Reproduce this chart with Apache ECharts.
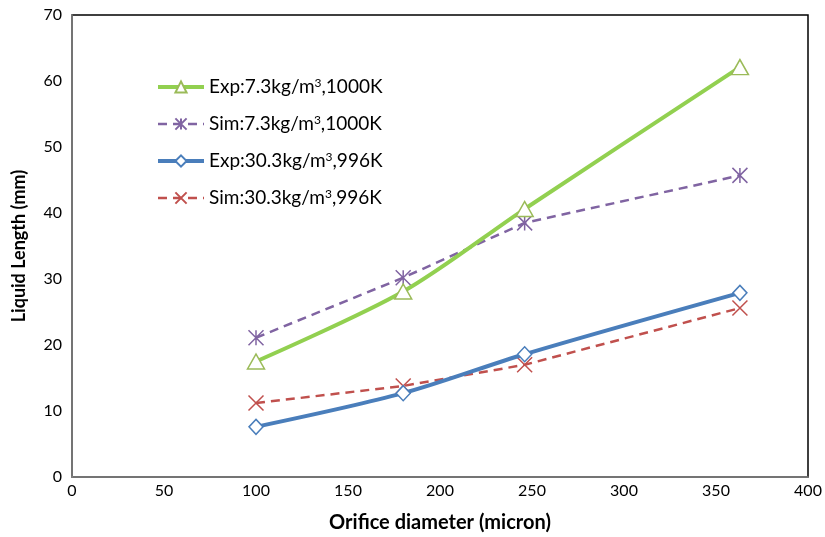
<!DOCTYPE html>
<html>
<head>
<meta charset="utf-8">
<script src="https://cdn.jsdelivr.net/npm/echarts@6/dist/echarts.min.js"></script>
<style>
  html, body { margin: 0; padding: 0; background: #fff; }
  #chart { width: 825px; height: 537px; }
</style>
</head>
<body>
<div id="chart"></div>
<script>
// orifice diameters (micron)
const diameters = [100, 180, 246, 363];

const expLow = [17.5, 28.1, 40.6, 62.1];   // Exp 7.3 kg/m3, 1000K
const simLow = [21.1, 30.2, 38.5, 45.7];   // Sim 7.3 kg/m3, 1000K
const expHigh = [7.6, 12.7, 18.6, 27.9];   // Exp 30.3 kg/m3, 996K
const simHigh = [11.2, 13.8, 17.0, 25.6];  // Sim 30.3 kg/m3, 996K

const seriesNames = [
    'Exp:7.3kg/m3,1000K',
    'Sim:7.3kg/m3,1000K',
    'Exp:30.3kg/m3,996K',
    'Sim:30.3kg/m3,996K'
];

function pairs(ys) {
    return diameters.map((x, i) => [x, ys[i]]);
}

let myChart = echarts.init(document.getElementById('chart'));
let option;

const fontFamily = 'Lato, "Open Sans", sans-serif';

option = {
    animation: false,
    grid: {
        left: 72,
        right: 17,
        top: 15,
        bottom: 60,
        outerBoundsMode: 'none',
        show: true,
        borderColor: '#000',
        borderWidth: 1.5
    },
    legend: {
        orient: 'vertical',
        left: 151,
        top: 72,
        itemWidth: 46,
        itemHeight: 14,
        itemGap: 17.5,
        textStyle: {
            fontFamily: fontFamily,
            fontSize: 19,
            color: '#000',
            rich: {
                a: { fontFamily: fontFamily, fontSize: 19, lineHeight: 20, color: '#000' },
                s: { fontFamily: fontFamily, fontSize: 12, lineHeight: 12, verticalAlign: 'top', color: '#000' }
            }
        },
        // write the "3" of m3 as a superscript
        formatter: function (name) {
            const parts = name.split('m3');
            return '{a|' + parts[0] + 'm}{s|3}{a|' + parts[1] + '}';
        },
        data: [
            { name: seriesNames[0], lineStyle: { width: 4 } },
            { name: seriesNames[1], lineStyle: { width: 2.5 } },
            { name: seriesNames[2], lineStyle: { width: 4 } },
            { name: seriesNames[3], lineStyle: { width: 2.5 } }
        ]
    },
    xAxis: {
        type: 'value',
        min: 0,
        max: 400,
        interval: 50,
        name: 'Orifice diameter (micron)',
        nameLocation: 'middle',
        nameGap: 36,
        nameTextStyle: {
            fontFamily: fontFamily,
            fontSize: 20,
            fontWeight: 'bold',
            color: '#000'
        },
        axisLine: { lineStyle: { color: '#868686', width: 1.5 } },
        axisTick: { show: false },
        splitLine: { show: false },
        axisLabel: {
            fontFamily: fontFamily,
            fontSize: 16,
            color: '#000',
            margin: 6
        }
    },
    yAxis: {
        type: 'value',
        min: 0,
        max: 70,
        interval: 10,
        name: 'Liquid Length (mm)',
        nameLocation: 'middle',
        nameGap: 44,
        nameTextStyle: {
            fontFamily: fontFamily,
            fontSize: 18,
            fontWeight: 'bold',
            color: '#000'
        },
        axisLine: { show: true, lineStyle: { color: '#868686', width: 1.5 } },
        axisTick: { show: false },
        splitLine: { show: false },
        axisLabel: {
            fontFamily: fontFamily,
            fontSize: 16,
            color: '#000',
            margin: 10
        }
    },
    series: [
        {
            name: seriesNames[0],
            type: 'line',
            data: pairs(expLow),
            smooth: 0.3,
            symbol: 'path://M5,0L10,9L0,9Z',
            symbolSize: [17, 15],
            lineStyle: { color: '#92D050', width: 4 },
            itemStyle: { color: '#fff', borderColor: '#9BBB59', borderWidth: 1.5 },
            z: 4
        },
        {
            name: seriesNames[1],
            type: 'line',
            data: pairs(simLow),
            symbol: 'path://M0,0L10,10M10,0L0,10M5,0L5,10',
            symbolSize: 15,
            lineStyle: { color: '#8064A2', width: 2.5, type: [9, 6] },
            itemStyle: { color: 'none', borderColor: '#8064A2', borderWidth: 1.5 },
            z: 3
        },
        {
            name: seriesNames[2],
            type: 'line',
            data: pairs(expHigh),
            smooth: 0.3,
            symbol: 'diamond',
            symbolSize: [14, 15],
            lineStyle: { color: '#4A7EBB', width: 4 },
            itemStyle: { color: '#fff', borderColor: '#4A7EBB', borderWidth: 1.5 },
            z: 4
        },
        {
            name: seriesNames[3],
            type: 'line',
            data: pairs(simHigh),
            symbol: 'path://M0,0L10,10M10,0L0,10',
            symbolSize: 15,
            lineStyle: { color: '#C0504D', width: 2.5, type: [9, 6] },
            itemStyle: { color: 'none', borderColor: '#C0504D', borderWidth: 1.5 },
            z: 3
        }
    ]
};

option && myChart.setOption(option);
</script>
</body>
</html>
